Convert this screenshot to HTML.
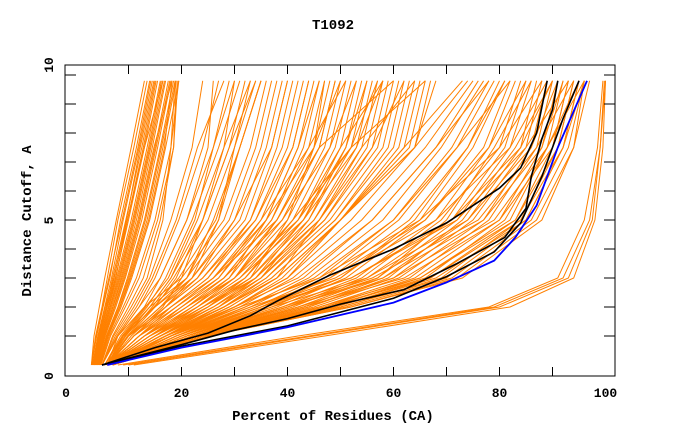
<!DOCTYPE html>
<html><head><meta charset="utf-8"><style>
html,body{margin:0;padding:0;background:#fff;}
svg{display:block;font-family:"Liberation Mono",monospace;}
</style></head><body>
<svg id="chart" width="680" height="440" xmlns="http://www.w3.org/2000/svg">
<text x="333" y="29" text-anchor="middle" font-size="14" font-weight="bold">T1092</text>
<text x="333" y="420" text-anchor="middle" font-size="14" font-weight="bold">Percent of Residues (CA)</text>
<text transform="translate(31,221) rotate(-90)" text-anchor="middle" font-size="14" font-weight="bold">Distance Cutoff, A</text>
<svg x="0" y="0" width="680" height="440"><g id="series"></g></svg>
<g id="axes"></g>
</svg>
<script>
const levels=[0,1,2,3,5,7.5,9.8];
const orangeModels=[
[3,3.5,4.5,5.5,7.7,10.5,13],[3,3.8,5,6,8,11,13.5],[3,4,5.2,6.5,8.5,11.5,14],[3.2,4.2,5.5,6.8,9,12,14.5],[3.4,4.4,5.8,7,9.5,12.5,15],[3.5,4.6,6,7.5,10,13,15.5],[3.6,4.8,6.3,7.8,10.5,13.5,16],[3.8,5,6.6,8.2,11,14,16.5],[4,5.2,7,8.6,11.5,14.5,17],[4,5.4,7.3,9,12,15,17.5],[4.2,5.6,7.6,9.4,12.5,15.5,18],[4.3,5.8,8,9.8,13,16,18.5],[4.5,6,8.3,10.2,13.5,16.5,19],[4.6,6.2,8.6,10.6,14,17,19.5],[3.3,4.3,5.6,7.2,9.8,12.8,15.2],[3.7,4.9,6.5,8,10.8,13.8,16.2],[4.1,5.5,7.4,9.2,12.2,15.2,17.8],[4.4,5.9,8.1,10,13.2,16.2,18.8],[3.1,3.9,5.1,6.3,8.8,11.8,14.2],[3.9,5.1,6.8,8.4,11.2,14.2,16.8],[4.7,6.4,9,11.5,15,18,19.5],[4.8,6.6,9.4,12,15.5,18.5,19.3],[5,7,10,12.8,16,18.5,19],[5,7.2,10.5,13.5,16.5,18,18.8],[3.5,4.7,6.2,7.6,9.8,13,16.5],[4,5.3,7.1,8.8,11.8,14.8,18.2],[4.5,6.1,8.4,10.4,13.8,16.8,18.2],[3.6,4.5,5.9,7.3,9.6,12.2,14.8],
[5,7.5,11,14,18,22,24],[5,8,12,15,19.5,24,27],[5.5,8.5,13,16,21,26,29],[5.5,9,13.5,17,22,27,31],[6,9.5,14,18,23,28,33],[6,10,15,19,24,29,34],[5,8,12,16,21,25,26],[5.5,9,14,18,24,29,32],[6,10,16,21,26,31,35],[6,11,17,22,27,30,34],[5,7.8,11.5,14.5,19,23,28],[6,10.5,16.5,20,24,28,30],[5.5,8.8,13.2,17.5,22.5,26,30],[6,9.8,14.5,18.5,25,30,33],[5.8,9.3,14.8,19.5,26.5,31,35],
[6,8,13,20,28,33,36],[6,9,14,21,29,34,37],[6,9,15,22,30,35,38],[6,10,16,22,31,36,39],[6,10,16,23,32,37,40],[6,11,17,24,33,38,41],[6,11,18,25,33,39,42],[6,12,18,25,34,40,43],[6,12,19,26,35,41,44],[6,12,20,27,36,42,45],[6,13,20,28,37,43,46],[6,13,21,28,37,44,47],[6,13,21,29,38,45,48],[6,14,22,30,39,46,49],[6,14,22,30,40,47,50],[6,14,23,31,41,48,51],[6,14,23,32,42,49,52],[6,15,24,32,42,50,53],[6,15,24,33,43,51,54],[6,15,25,33,44,52,55],[6,15,25,34,45,53,56],[6,16,26,34,45,54,57],[6,16,26,35,46,55,58],[6,16,27,35,47,56,59],[6,16,27,36,47,57,60],[6,17,28,36,48,58,61],[6,17,28,37,49,59,62],[6,17,28,37,49,60,63],[6,17,29,38,50,61,64],[6,18,29,38,50,62,65],[6,18,30,39,50,63,66],[6,18,30,40,50,64,67],[6,18,30,40,50,64,68],[6,9,15,21,27,31,35],[6,10,17,24,34,41,44],[6,12,20,28,39,48,53],[6,13,23,31,43,53,58],[6,11,19,26,36,45,50],[6,14,24,34,46,56,62],[6,12,21,30,42,52,57],[6,10,18,26,38,46,49],[6,15,26,35,44,51,55],[6,13,22,29,36,42,46],[6,16,28,38,46,54,64],[6,11,17,23,30,37,40],[6,14,25,33,40,45,47],[6,12,19,27,35,44,51],[6,17,27,34,43,50,58],[6,15,23,30,38,46,60],[6,16,25,32,41,52,66],
[7,17,28,38,50,62,73],[7,18,30,40,52,64,74],[7,18,31,41,54,66,75],[7,19,32,43,56,68,76],[7,19,33,44,58,69,77],[7,20,34,46,60,71,78],[7,20,35,47,61,72,79],[7,21,36,48,63,74,80],[7,21,37,50,65,75,81],[7,21,38,51,66,77,82],[7,22,39,53,68,78,83],[7,22,40,54,69,80,84],[7,22,41,55,71,81,85],[7,23,42,57,72,82,86],[7,23,43,58,74,84,87],[7,23,44,60,75,85,88],[7,23,45,61,77,86,89],[7,24,46,63,78,87,90],[7,24,47,64,80,88,91],[7,24,48,66,81,89,92],[7,24,49,67,83,90,93],[7,24,50,69,84,91,94],[7,25,50,70,85,92,95],[7,25,51,71,86,93,96],[7,25,52,72,87,94,97],[7,25,52,73,88,94,96],[7,24,49,68,85,92,95],[7,23,46,65,83,91,94],[7,22,43,62,80,90,93],[7,21,40,58,77,88,92],[7,20,37,55,74,86,91],[7,19,35,52,71,84,90],[7,18,33,49,68,82,89],[7,17,31,46,65,80,88],[7,24,48,65,82,89,96],[7,23,47,67,84,92,96],[7,22,42,60,79,89,95],[7,21,39,56,76,87,94],[7,20,36,52,72,85,93],[7,19,34,48,66,78,85],[7,18,32,45,60,72,82],[7,17,30,42,56,68,78],[7,20,35,50,64,74,81],[7,22,40,57,70,79,86],[7,23,44,59,73,83,90],
[8,42,78,91,96,98.5,99.5],[9,44,79,92,97,99,99.8],[10,45,80,93,97.5,99,100],[11,47,82,94,98,99.5,100]
];
const blackCurves=[
[[5,0],[15,0.6],[25,1.1],[33,1.7],[38,2.2],[48,3.1],[60,4.0],[70,4.9],[80,6.1],[84,6.8],[87,8],[89,9.8]],
[[5,0],[20,0.7],[30,1.2],[40,1.6],[50,2.1],[62,2.6],[72,3.5],[81,4.4],[85,5.4],[86,6.5],[88,7.8],[90,8.8],[91,9.8]],
[[5,0],[20,0.65],[40,1.35],[60,2.3],[70,3.05],[79,3.9],[84,4.9],[88,6.5],[92,8.5],[95,9.8]]
];
const blueCurve=[[6,0],[20,0.6],[40,1.3],[60,2.15],[70,2.85],[79,3.6],[83,4.4],[87,5.5],[91,7.5],[96.5,9.8]];
const xTicks=[0,20,40,60,80,100];
const yTicks=[0,5,10];

const X0=75.5,XS=5.3,Y0=365,YS=29;
const sx=v=>X0+v*XS, sy=v=>Y0-v*YS;
const labY=v=>376-v*31.1;
const NS="http://www.w3.org/2000/svg";
const g=document.getElementById('series');
function poly(pts,color,w,name){
  const p=document.createElementNS(NS,'polyline');
  p.setAttribute('points',pts.map(q=>sx(q[0]).toFixed(1)+','+sy(q[1]).toFixed(1)).join(' '));
  p.setAttribute('fill','none');p.setAttribute('stroke',color);p.setAttribute('stroke-width',w);
  
  
  g.appendChild(p);
}
orangeModels.forEach((m,i)=>poly(m.map((x,j)=>[x,levels[j]]),'#ff8000',1,'model-line-'+i));
blackCurves.forEach((c,i)=>poly(c,'#000',1.6,'reference-line-'+i));
poly(blueCurve,'#0000ff',1.8,'target-line');

const a=document.getElementById('axes');
function el(tag,attrs,text){const e=document.createElementNS(NS,tag);for(const k in attrs)e.setAttribute(k,attrs[k]);if(text!==undefined)e.textContent=text;a.appendChild(e);return e;}
const frame=el('rect',{x:65,y:65,width:550,height:311,fill:'none',stroke:'#000','stroke-width':1});


for(let v=10;v<=90;v+=10){
  const t1=el('line',{x1:sx(v),x2:sx(v),y1:376,y2:367,stroke:'#000'});
  
  
  const t2=el('line',{x1:sx(v),x2:sx(v),y1:65,y2:74,stroke:'#000'});
  
  
}
xTicks.forEach(v=>{
  const t=el('text',{x:v===0?66:sx(v),y:397,'text-anchor':'middle','font-size':13,'font-weight':'bold'},String(v));
  
  
});
for(let v=1;v<=10;v++){
  const t1=el('line',{x1:65,x2:76,y1:sy(v),y2:sy(v),stroke:'#000'});
  
  
  const t2=el('line',{x1:615,x2:604,y1:sy(v),y2:sy(v),stroke:'#000'});
  
  
}
yTicks.forEach(v=>{
  const t=el('text',{transform:'translate(53,'+labY(v)+') rotate(-90)','text-anchor':'middle','font-size':13,'font-weight':'bold'},String(v));
  
  
});
</script>
</body></html>
